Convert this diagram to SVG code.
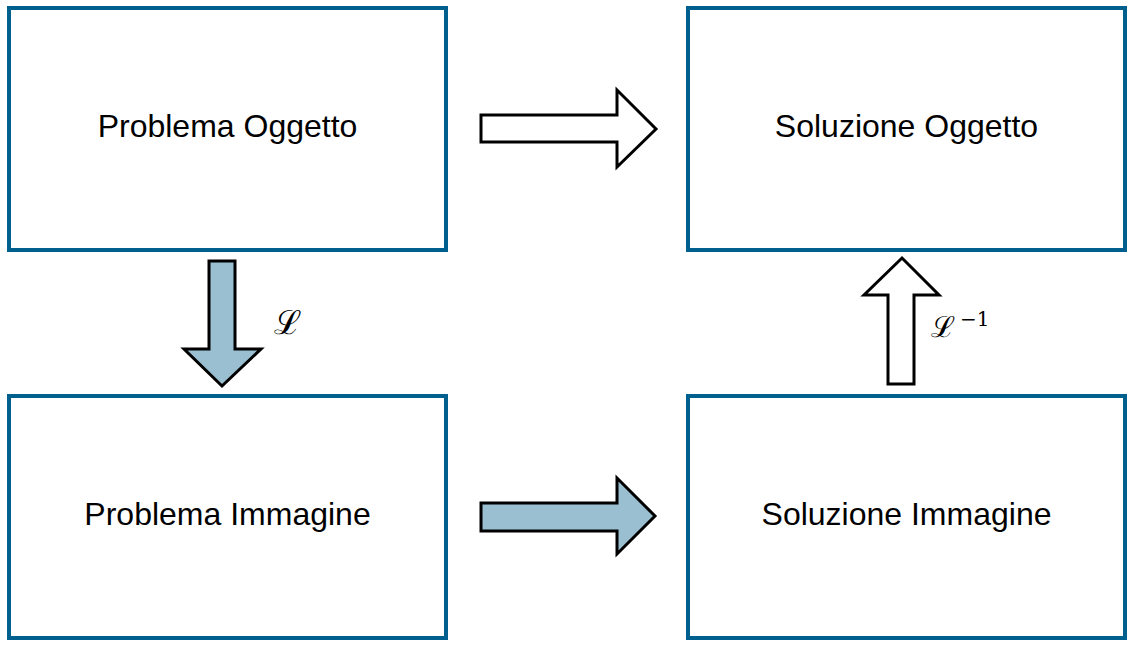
<svg xmlns="http://www.w3.org/2000/svg" width="1131" height="645" viewBox="0 0 1131 645">
<style>
.box{fill:#fff;stroke:#00608D;stroke-width:4}
.lbl{font-family:"Liberation Sans","DejaVu Sans",sans-serif;font-size:32px;fill:#000;text-anchor:middle}
.arr{stroke:#000;stroke-width:3;stroke-linejoin:miter}
.blue{fill:#99BFD0}
.white{fill:#fff}
.math{font-family:"DejaVu Serif","Liberation Serif",serif;fill:#000}
.sup{font-family:"DejaVu Serif","Liberation Serif",serif;fill:#000}
</style>
<rect width="1131" height="645" fill="#fff"/>
<g id="problema-oggetto">
<rect class="box" x="9" y="8" width="437" height="242"/>
<text class="lbl" x="227.5" y="137">Problema Oggetto</text>
</g>
<g id="soluzione-oggetto">
<rect class="box" x="688" y="8" width="437" height="242"/>
<text class="lbl" x="906.5" y="137">Soluzione Oggetto</text>
</g>
<g id="problema-immagine">
<rect class="box" x="9" y="396" width="437" height="242"/>
<text class="lbl" x="227.5" y="525">Problema Immagine</text>
</g>
<g id="soluzione-immagine">
<rect class="box" x="688" y="396" width="437" height="242"/>
<text class="lbl" x="906.5" y="525">Soluzione Immagine</text>
</g>
<g id="connectors">
<polygon class="arr white" points="481,115 617,115 617,90 656,129 617,167 617,142 481,142"/>
<polygon class="arr blue" points="481,503 617,503 617,478 655,516 617,554 617,531 481,531"/>
<polygon class="arr blue" points="209,261 235,261 235,349 261,349 222,386 184,349 209,349"/>
<polygon class="arr white" points="888,384 914,384 914,295 939,295 902,258 864,295 888,295"/>
<text class="math" x="274" y="334" font-size="33">ℒ</text>
<text class="math" x="931" y="337" font-size="29">ℒ</text>
<text class="sup" x="960" y="326" font-size="20">−1</text>
</g>
</svg>
